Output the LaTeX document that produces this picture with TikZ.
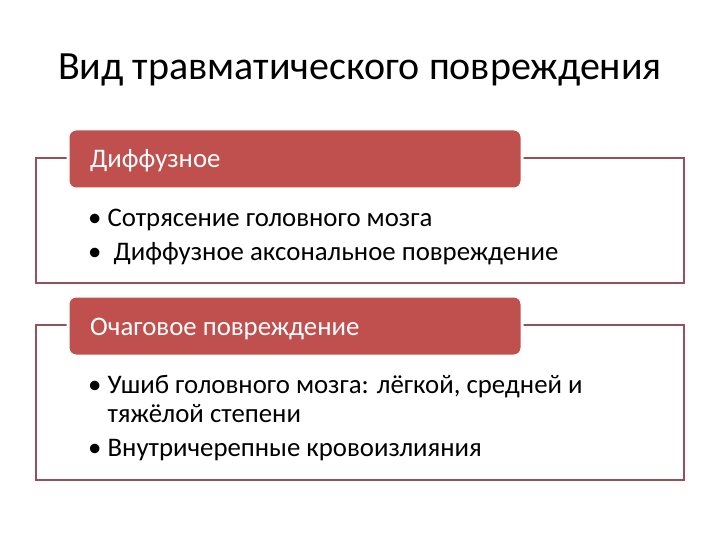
\documentclass[tikz,border=0pt]{standalone}
\usepackage{fontspec}
\setmainfont{Carlito}
\definecolor{labred}{RGB}{192,80,77}
\definecolor{framec}{RGB}{150,80,88}
\begin{document}
\begin{tikzpicture}[x=1pt,y=-1pt,
  frame/.style={draw=framec,line width=1.6pt},
  lab/.style={fill=labred,draw=white,line width=3pt,rounded corners=8pt},
  labtext/.style={text=white,font=\fontsize{26.8}{30}\selectfont,anchor=base west,inner sep=0},
  bodytext/.style={text=black,font=\fontsize{26.8}{30}\selectfont,anchor=base west,inner sep=0}]
\useasboundingbox (0,0) rectangle (720,540);
\node[font=\fontsize{40}{44}\selectfont,inner sep=0] (title) at (360,70) {Вид травматического повреждения};
% box 1
\draw[frame] (36,158) rectangle (684,283);
\draw[lab] (68,129) rectangle (522,189);
\node[labtext] (l1) at (90,168) {Диффузное};
\node[bodytext] (b1a) at (88,226) {\textbullet\ Сотрясение головного мозга};
\node[bodytext] (b1b) at (88,260) {\textbullet\ \ Диффузное аксональное повреждение};
% box 2
\draw[frame] (36,325) rectangle (684,480);
\draw[lab] (68,296) rectangle (522,356);
\node[labtext] (l2) at (90,335) {Очаговое повреждение};
\node[bodytext] (b2a) at (88,393) {\textbullet\ Ушиб головного мозга: лёгкой, средней и};
\node[bodytext] (b2b) at (88,422) {\hphantom{\textbullet\ }тяжёлой степени};
\node[bodytext] (b2c) at (88,456) {\textbullet\ Внутричерепные кровоизлияния};
\end{tikzpicture}
\end{document}
